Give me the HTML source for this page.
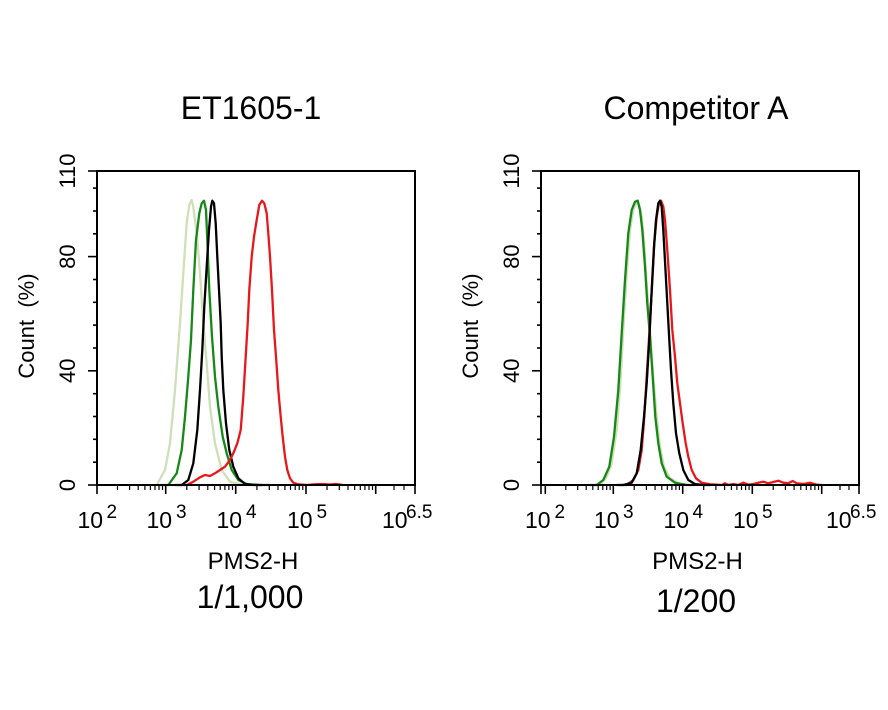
<!DOCTYPE html>
<html>
<head>
<meta charset="utf-8">
<style>
html,body{margin:0;padding:0;background:#fff;}
svg{display:block;}
text{font-family:"Liberation Sans",Arial,sans-serif;fill:#000;}
</style>
</head>
<body>
<svg width="888" height="710" viewBox="0 0 888 710" xmlns="http://www.w3.org/2000/svg">
<rect x="0" y="0" width="888" height="710" fill="#fff"/>

<!-- Titles -->
<text x="251" y="119" font-size="32" text-anchor="middle">ET1605-1</text>
<text x="696" y="119" font-size="32" text-anchor="middle">Competitor A</text>

<!-- ============ LEFT CHART ============ -->
<g fill="none" stroke-linejoin="round" stroke-linecap="round" stroke-width="2.3">
  <polyline stroke="#cfdfb8" points="150,485 156.7,485 165,470 170,443.3 175,390 180,323.3 183.3,273.3 186.7,223.3 189.3,205 191.7,200 193.3,206.7 196.7,233.3 200,273.3 203.3,323.3 206.7,363.3 210,406.7 215,443.3 221.7,470 230,481.7 243,485 250,485"/>
  <polyline stroke="#178817" points="160,485 168.3,485 176.7,473.3 181.7,450 185,416.7 188.3,376.7 191,340 193.3,290 196,240 199.3,213.3 201.7,203.3 204,200.7 206,210 207.3,240 209.3,290 212,336.7 215,376.7 218.3,406.7 222.7,436.7 226.7,453.3 231.7,470 238.3,480 246.7,484 260,485 270,485"/>
  <polyline stroke="#000" points="175,485 181.7,485 188.3,480 193.3,463.3 197.3,430 200,390 202.3,350 204.3,306.7 206.7,266.7 209,230 211,206.7 212.3,200.7 214,203.3 215.7,223.3 217.3,256.7 219,290 220.7,323.3 221.7,356.7 223.3,390 226,423.3 229.3,450 233.3,466.7 238.3,478.3 245,484 253.3,485 262,485"/>
  <polyline stroke="#e8171c" points="180,485 186.7,485 193.3,481.7 200,477.3 205,475 210,476 215,473.3 220,470 225,466.7 230,460 233.3,453.3 237.3,443.3 240.7,430 243.3,396.7 245.7,356.7 247.7,323.3 249.3,290 251.7,256.7 254,236.7 256.7,220 259.3,205 262,200.7 264.3,203.3 266.7,213.3 268.3,233.3 270,256.7 272,290 274,330 276,356.7 278.3,390 280.7,416.7 282.7,436.7 285,456.7 287.3,470 290,478.3 293.3,482.7 298.3,484.3 306.7,485 315,484.3 322,484 330,484.5 336,484 343,485"/>
</g>

<rect x="97" y="171" width="318" height="314" fill="none" stroke="#000" stroke-width="2"/>

<g stroke="#000" stroke-width="1.6">
  <line x1="88" y1="485" x2="97" y2="485"/>
  <line x1="88" y1="370.8" x2="97" y2="370.8"/>
  <line x1="88" y1="256.6" x2="97" y2="256.6"/>
  <line x1="88" y1="171" x2="97" y2="171"/>
  <line x1="93" y1="462.2" x2="97" y2="462.2"/>
  <line x1="93" y1="439.3" x2="97" y2="439.3"/>
  <line x1="93" y1="416.5" x2="97" y2="416.5"/>
  <line x1="93" y1="393.7" x2="97" y2="393.7"/>
  <line x1="93" y1="348.0" x2="97" y2="348.0"/>
  <line x1="93" y1="325.1" x2="97" y2="325.1"/>
  <line x1="93" y1="302.3" x2="97" y2="302.3"/>
  <line x1="93" y1="279.5" x2="97" y2="279.5"/>
  <line x1="93" y1="233.8" x2="97" y2="233.8"/>
  <line x1="93" y1="211.0" x2="97" y2="211.0"/>
  <line x1="93" y1="188.1" x2="97" y2="188.1"/>
</g>

<g stroke="#000" stroke-width="1.6">
  <line x1="97" y1="485" x2="97" y2="494"/>
  <line x1="165.7" y1="485" x2="165.7" y2="494"/>
  <line x1="235.7" y1="485" x2="235.7" y2="494"/>
  <line x1="306" y1="485" x2="306" y2="494"/>
  <line x1="375.7" y1="485" x2="375.7" y2="494"/>
  <line x1="415" y1="485" x2="415" y2="494"/>
</g>
<g stroke="#000" stroke-width="1.2">
  <line x1="117.5" y1="486" x2="117.5" y2="490"/><line x1="129.6" y1="486" x2="129.6" y2="490"/><line x1="138.2" y1="486" x2="138.2" y2="490"/><line x1="144.9" y1="486" x2="144.9" y2="490"/><line x1="150.4" y1="486" x2="150.4" y2="490"/><line x1="155.0" y1="486" x2="155.0" y2="490"/><line x1="159.0" y1="486" x2="159.0" y2="490"/><line x1="162.5" y1="486" x2="162.5" y2="490"/>
  <line x1="186.8" y1="486" x2="186.8" y2="490"/><line x1="199.1" y1="486" x2="199.1" y2="490"/><line x1="207.8" y1="486" x2="207.8" y2="490"/><line x1="214.6" y1="486" x2="214.6" y2="490"/><line x1="220.2" y1="486" x2="220.2" y2="490"/><line x1="224.9" y1="486" x2="224.9" y2="490"/><line x1="228.9" y1="486" x2="228.9" y2="490"/><line x1="232.5" y1="486" x2="232.5" y2="490"/>
  <line x1="256.9" y1="486" x2="256.9" y2="490"/><line x1="269.3" y1="486" x2="269.3" y2="490"/><line x1="278.0" y1="486" x2="278.0" y2="490"/><line x1="284.9" y1="486" x2="284.9" y2="490"/><line x1="290.5" y1="486" x2="290.5" y2="490"/><line x1="295.2" y1="486" x2="295.2" y2="490"/><line x1="299.2" y1="486" x2="299.2" y2="490"/><line x1="302.8" y1="486" x2="302.8" y2="490"/>
  <line x1="327.0" y1="486" x2="327.0" y2="490"/><line x1="339.3" y1="486" x2="339.3" y2="490"/><line x1="348.0" y1="486" x2="348.0" y2="490"/><line x1="354.7" y1="486" x2="354.7" y2="490"/><line x1="360.3" y1="486" x2="360.3" y2="490"/><line x1="364.9" y1="486" x2="364.9" y2="490"/><line x1="369.0" y1="486" x2="369.0" y2="490"/><line x1="372.5" y1="486" x2="372.5" y2="490"/>
  <line x1="394" y1="486" x2="394" y2="490"/><line x1="404" y1="486" x2="404" y2="490"/>
</g>

<g font-size="22" text-anchor="middle">
  <text transform="translate(75,485) rotate(-90)">0</text>
  <text transform="translate(75,370.8) rotate(-90)">40</text>
  <text transform="translate(75,256.6) rotate(-90)">80</text>
  <text transform="translate(75,171) rotate(-90)">110</text>
</g>
<text transform="translate(34,326) rotate(-90)" font-size="22" text-anchor="middle" xml:space="preserve">Count  (%)</text>

<g font-size="23">
  <text x="77.5" y="528">10</text><text x="106.5" y="518" font-size="19">2</text>
  <text x="146.5" y="528">10</text><text x="176" y="518" font-size="19">3</text>
  <text x="216.5" y="528">10</text><text x="246" y="518" font-size="19">4</text>
  <text x="287" y="528">10</text><text x="316.5" y="518" font-size="19">5</text>
  <text x="382" y="528">10</text><text x="406" y="518" font-size="19">6.5</text>
</g>
<text x="253" y="569" font-size="24" text-anchor="middle">PMS2-H</text>
<text x="250" y="608" font-size="32" text-anchor="middle">1/1,000</text>

<!-- ============ RIGHT CHART ============ -->
<g fill="none" stroke-linejoin="round" stroke-linecap="round" stroke-width="2.3">
  <polyline stroke="#cfdfb8" points="594,485 600,485 606.7,476.7 611.7,463.3 616.7,430 620,390 623.3,330 626.7,273.3 630,230 633.3,210 636.7,201.7 639.3,205 641.7,216.7 644,240 646,273.3 648.3,306.7 650.7,340 653.3,376.7 656.7,416.7 660,446.7 664,466.7 670,478.3 680,484 690,485 698,485"/>
  <polyline stroke="#178817" points="590,485 596.7,485 603.3,480 609.3,466.7 614,436.7 618.3,390 621.7,333.3 625,280 628.3,233.3 631.7,210 635,201.7 637.7,200.7 640,210 642.3,230 645,266.7 647.3,303.3 650,336.7 652.7,376.7 655.3,416.7 658.3,443.3 661.7,463.3 666.7,476.7 675,482.7 686.7,485 694,485"/>
  <polyline stroke="#e8171c" points="620,485 626.7,485 633.3,480 638.3,470 641.7,450 644.3,416.7 646.7,376.7 649.3,333.3 652,286.7 654.3,243.3 656.7,216.7 659,203.3 661,200.7 663.3,206.7 665,220 667.3,250 670,290 672.3,330 675,356.7 677.3,383.3 680,403.3 682.7,423.3 685.7,443.3 688.3,456.7 691.7,470 696,478.3 701.7,482.7 710,484.3 716.7,484.7 721.7,485 725,483.3 728.3,485 733.3,484 738.3,485 743.3,482.7 748.3,484.7 753.3,484 758.3,482.7 763.3,481.7 768.3,483.3 773.3,482 778.3,480.7 783.3,482.7 788.3,483.3 792.7,481 796.7,483.3 803.3,484 810,482.7 816.7,484.7 821.7,485"/>
  <polyline stroke="#000" points="617,485 623.3,485 631.7,482.7 636.7,473.3 640.7,450 644,416.7 646.7,383.3 649.3,340 651.7,290 654,246.7 656,220 658.3,203.3 660,200.7 661.7,206.7 663.3,230 665.3,266.7 667.3,303.3 669.3,340 671,370 673.3,403.3 676,433.3 679.3,453.3 683.3,470 688.3,480 695,484 703.3,485 710,485"/>
</g>

<rect x="541" y="171" width="318" height="314" fill="none" stroke="#000" stroke-width="2"/>

<g stroke="#000" stroke-width="1.6">
  <line x1="532" y1="485" x2="541" y2="485"/>
  <line x1="532" y1="370.8" x2="541" y2="370.8"/>
  <line x1="532" y1="256.6" x2="541" y2="256.6"/>
  <line x1="532" y1="171" x2="541" y2="171"/>
  <line x1="537" y1="462.2" x2="541" y2="462.2"/>
  <line x1="537" y1="439.3" x2="541" y2="439.3"/>
  <line x1="537" y1="416.5" x2="541" y2="416.5"/>
  <line x1="537" y1="393.7" x2="541" y2="393.7"/>
  <line x1="537" y1="348.0" x2="541" y2="348.0"/>
  <line x1="537" y1="325.1" x2="541" y2="325.1"/>
  <line x1="537" y1="302.3" x2="541" y2="302.3"/>
  <line x1="537" y1="279.5" x2="541" y2="279.5"/>
  <line x1="537" y1="233.8" x2="541" y2="233.8"/>
  <line x1="537" y1="211.0" x2="541" y2="211.0"/>
  <line x1="537" y1="188.1" x2="541" y2="188.1"/>
</g>

<g stroke="#000" stroke-width="1.6">
  <line x1="541" y1="485" x2="541" y2="494"/>
  <line x1="545.3" y1="485" x2="545.3" y2="494"/>
  <line x1="613.3" y1="485" x2="613.3" y2="494"/>
  <line x1="682.7" y1="485" x2="682.7" y2="494"/>
  <line x1="752.3" y1="485" x2="752.3" y2="494"/>
  <line x1="821.7" y1="485" x2="821.7" y2="494"/>
  <line x1="859" y1="485" x2="859" y2="494"/>
</g>
<g stroke="#000" stroke-width="1.2">
  <line x1="565.8" y1="486" x2="565.8" y2="490"/><line x1="577.7" y1="486" x2="577.7" y2="490"/><line x1="586.2" y1="486" x2="586.2" y2="490"/><line x1="592.8" y1="486" x2="592.8" y2="490"/><line x1="598.2" y1="486" x2="598.2" y2="490"/><line x1="602.8" y1="486" x2="602.8" y2="490"/><line x1="606.7" y1="486" x2="606.7" y2="490"/><line x1="610.1" y1="486" x2="610.1" y2="490"/>
  <line x1="634.2" y1="486" x2="634.2" y2="490"/><line x1="646.4" y1="486" x2="646.4" y2="490"/><line x1="655.1" y1="486" x2="655.1" y2="490"/><line x1="661.8" y1="486" x2="661.8" y2="490"/><line x1="667.3" y1="486" x2="667.3" y2="490"/><line x1="671.9" y1="486" x2="671.9" y2="490"/><line x1="675.9" y1="486" x2="675.9" y2="490"/><line x1="679.4" y1="486" x2="679.4" y2="490"/>
  <line x1="703.7" y1="486" x2="703.7" y2="490"/><line x1="715.9" y1="486" x2="715.9" y2="490"/><line x1="724.6" y1="486" x2="724.6" y2="490"/><line x1="731.4" y1="486" x2="731.4" y2="490"/><line x1="736.9" y1="486" x2="736.9" y2="490"/><line x1="741.5" y1="486" x2="741.5" y2="490"/><line x1="745.6" y1="486" x2="745.6" y2="490"/><line x1="749.1" y1="486" x2="749.1" y2="490"/>
  <line x1="773.2" y1="486" x2="773.2" y2="490"/><line x1="785.4" y1="486" x2="785.4" y2="490"/><line x1="794.1" y1="486" x2="794.1" y2="490"/><line x1="800.8" y1="486" x2="800.8" y2="490"/><line x1="806.3" y1="486" x2="806.3" y2="490"/><line x1="810.9" y1="486" x2="810.9" y2="490"/><line x1="814.9" y1="486" x2="814.9" y2="490"/><line x1="818.5" y1="486" x2="818.5" y2="490"/>
  <line x1="840" y1="486" x2="840" y2="490"/><line x1="849" y1="486" x2="849" y2="490"/>
</g>

<g font-size="22" text-anchor="middle">
  <text transform="translate(519,485) rotate(-90)">0</text>
  <text transform="translate(519,370.8) rotate(-90)">40</text>
  <text transform="translate(519,256.6) rotate(-90)">80</text>
  <text transform="translate(519,171) rotate(-90)">110</text>
</g>
<text transform="translate(478,326) rotate(-90)" font-size="22" text-anchor="middle" xml:space="preserve">Count  (%)</text>

<g font-size="23">
  <text x="525" y="528">10</text><text x="554.5" y="518" font-size="19">2</text>
  <text x="594" y="528">10</text><text x="623" y="518" font-size="19">3</text>
  <text x="663.5" y="528">10</text><text x="692.5" y="518" font-size="19">4</text>
  <text x="733" y="528">10</text><text x="762" y="518" font-size="19">5</text>
  <text x="826" y="528">10</text><text x="850" y="518" font-size="19">6.5</text>
</g>
<text x="697.5" y="569" font-size="24" text-anchor="middle">PMS2-H</text>
<text x="696" y="612" font-size="32" text-anchor="middle">1/200</text>

</svg>
</body>
</html>
